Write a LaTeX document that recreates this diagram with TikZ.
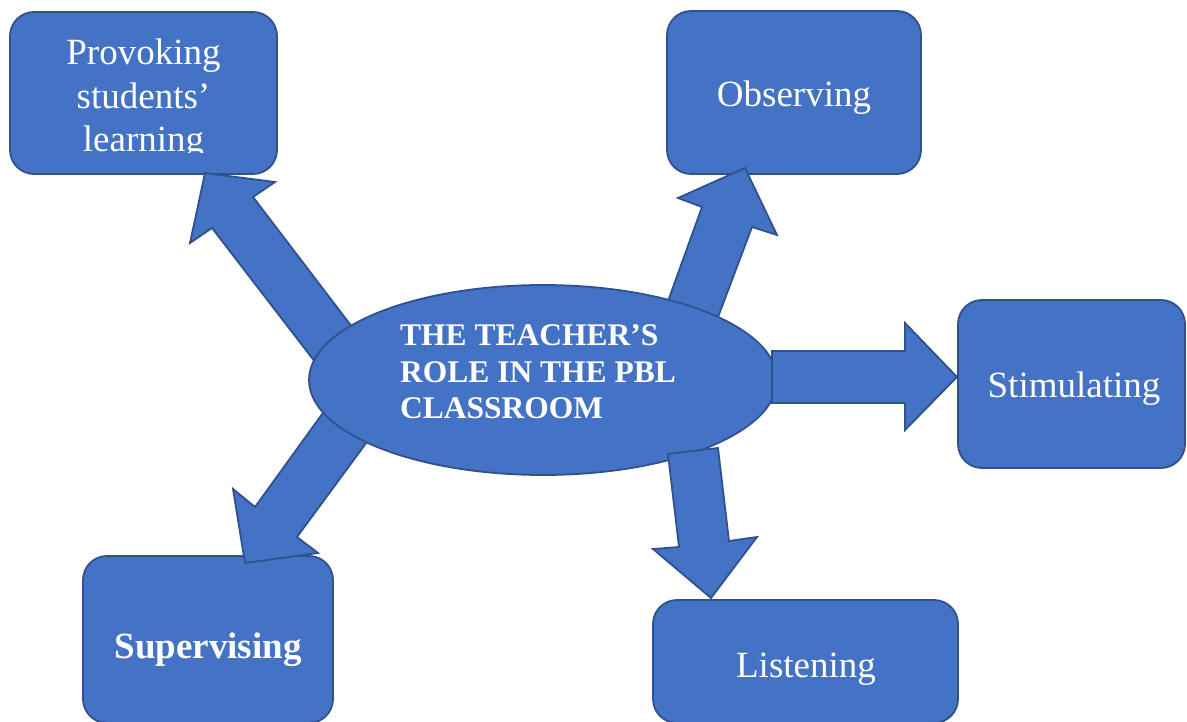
\documentclass[tikz,border=0pt]{standalone}
\usepackage{fontspec}
\setmainfont{Liberation Serif}
\usetikzlibrary{shapes.geometric}
\definecolor{fillblue}{HTML}{4472C4}
\definecolor{edgeblue}{HTML}{2F528F}
\begin{document}
\begin{tikzpicture}[x=1pt,y=-1pt,
  box/.style={draw=edgeblue, fill=fillblue, line width=1.8pt, rounded corners=24pt, inner sep=0pt},
  blockarrow/.style={draw=edgeblue, fill=fillblue, line width=1.8pt, line join=miter},
  hubstyle/.style={ellipse, draw=edgeblue, fill=fillblue, line width=1.8pt, inner sep=0pt},
  lbl/.style={text=white, font=\fontsize{37}{43.5}\selectfont, inner sep=0pt, anchor=base},
  hublbl/.style={text=white, font=\fontsize{31.5}{37}\selectfont\bfseries, inner sep=0pt, anchor=base west}]
\useasboundingbox (0,0) rectangle (1187,722);
\clip (0,0) rectangle (1187,722);

% boxes
\node[box, minimum width=267pt, minimum height=162pt] (prov) at (143.5,93) {};
\node[box, minimum width=254pt, minimum height=163pt] (obs) at (794,92.5) {};
\node[box, minimum width=227pt, minimum height=168pt] (stim) at (1071.5,384) {};
\node[box, minimum width=250pt, minimum height=167pt] (sup) at (208,639.5) {};
\node[box, minimum width=305pt, minimum height=123pt] (list) at (805.5,661.5) {};

% arrows under the hub
\draw[blockarrow] (205,173) -- (275,182) -- (253,197) -- (362,340) -- (322,371) -- (212,228) -- (190,243) -- cycle;
\draw[blockarrow] (745,168) -- (777,235) -- (752,227) -- (712,333) -- (663,315) -- (702,207) -- (678,198) -- cycle;
\draw[blockarrow] (245,563) -- (233,489) -- (255,507) -- (333,399) -- (375,431) -- (297,537) -- (318,553) -- cycle;

% hub
\node[hubstyle, minimum width=468pt, minimum height=190pt] (hub) at (543,380) {};

% arrows over the hub
\draw[blockarrow] (957,377) -- (905,430) -- (905,403) -- (772,403) -- (772,351) -- (905,351) -- (905,323) -- cycle;
\draw[blockarrow] (711,598) -- (653,549) -- (679,547) -- (668,454) -- (718,448) -- (729,541) -- (757,537) -- cycle;

% hub text
\node[hublbl] (hubA) at (400,345) {THE TEACHER’S};
\node[hublbl] (hubB) at (400,382) {ROLE IN THE PBL};
\node[hublbl] (hubC) at (400,418) {CLASSROOM};

% box texts
\begin{scope}
\clip (10,12) rectangle (277,153);
\node[lbl] (provA) at (143.5,65) {Provoking};
\node[lbl] (provB) at (143.5,108.5) {students’};
\node[lbl] (provC) at (143.5,152) {learning};
\end{scope}
\node[lbl] (obsT) at (794,107) {Observing};
\node[lbl] (stimT) at (1074,397) {Stimulating};
\node[lbl, font=\fontsize{37}{43.5}\selectfont\bfseries] (supT) at (208,658) {Supervising};
\node[lbl] (listT) at (806,677) {Listening};
\end{tikzpicture}
\end{document}
